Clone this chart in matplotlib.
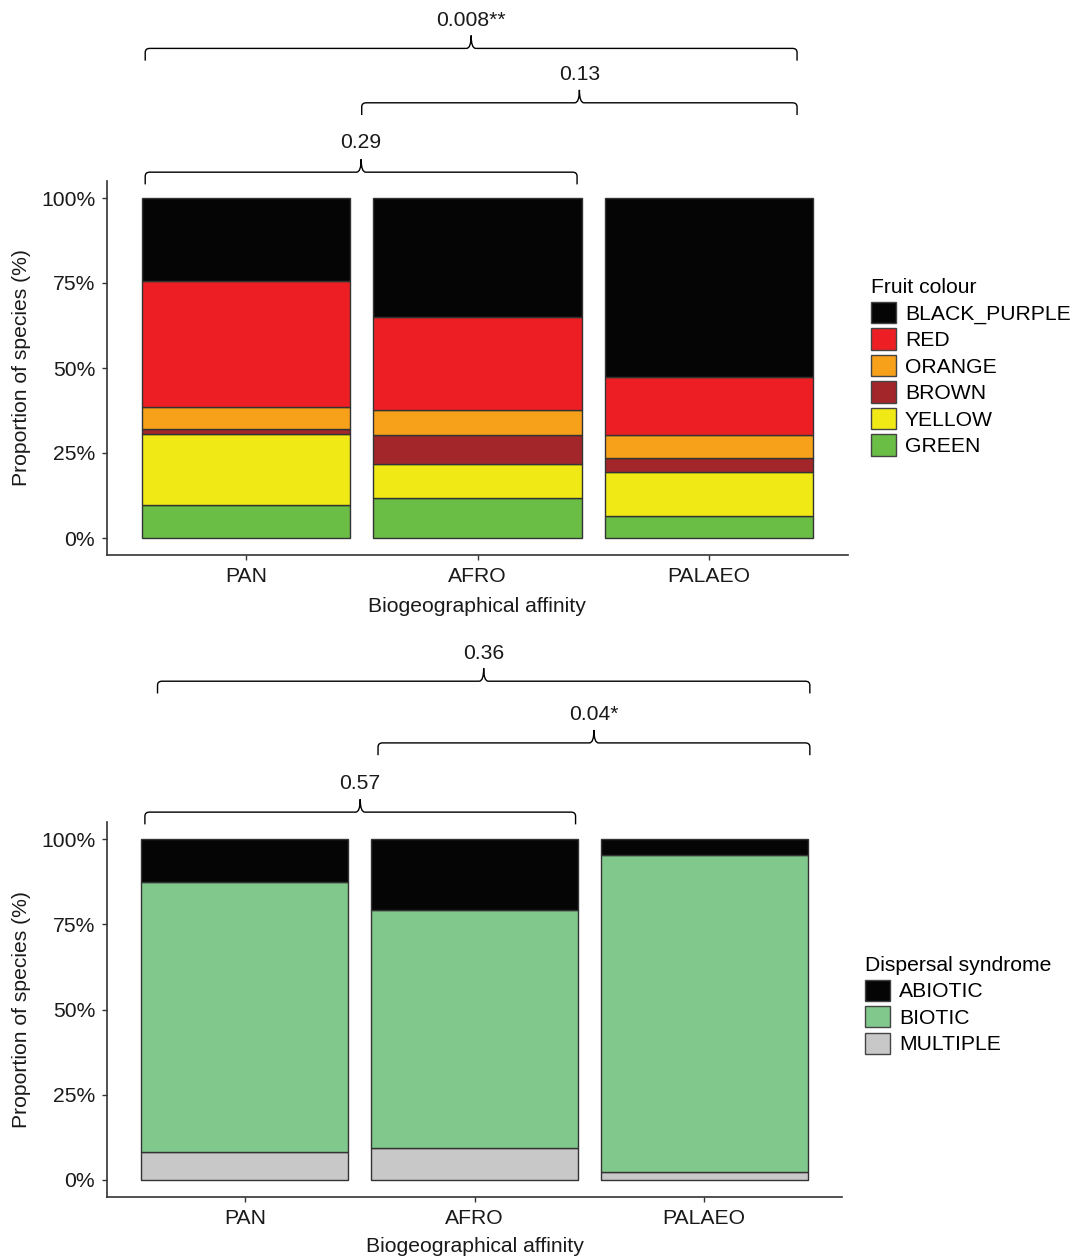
import numpy as np
import matplotlib
matplotlib.use("Agg")
import matplotlib.pyplot as plt
from matplotlib.path import Path
from matplotlib.patches import PathPatch, Patch

plt.rcParams['font.family'] = ['Liberation Sans', 'DejaVu Sans']

groups = ['PAN', 'AFRO', 'PALAEO']

# fruit colour, proportion (%) of species per group, stacked bottom -> top
colour_names = ['GREEN', 'YELLOW', 'BROWN', 'ORANGE', 'RED', 'BLACK_PURPLE']
colour_pct = {
    'GREEN':        [9.8, 11.7, 6.6],
    'YELLOW':       [20.7, 10.1, 12.9],
    'BROWN':        [1.7, 8.4, 4.1],
    'ORANGE':       [6.2, 7.4, 6.6],
    'RED':          [37.2, 27.3, 17.1],
    'BLACK_PURPLE': [24.4, 35.1, 52.7],
}
colour_fill = ['#6abd45', '#f1e915', '#a3262a', '#f7a11a', '#ed1f24', '#050505']

# dispersal syndrome
syndrome_names = ['MULTIPLE', 'BIOTIC', 'ABIOTIC']
syndrome_pct = {
    'MULTIPLE': [8.3, 9.3, 2.4],
    'BIOTIC':   [79.0, 70.0, 92.8],
    'ABIOTIC':  [12.7, 20.7, 4.8],
}
syndrome_fill = ['#c8c8c8', '#80c88c', '#050505']

# pairwise p-values
colour_p = ['0.008**', '0.13', '0.29']
syndrome_p = ['0.36', '0.04*', '0.57']

W, H = 1078, 1259
FS = 15.2
EDGE = '#333333'

fig = plt.figure(figsize=(W / 100, H / 100), dpi=100)


def brace(ax, x0, x1, y, text, ty):
    # curly bracket with a small cusp in the middle
    d, r, c, rx = 3.6, 1.2, 3.8, 0.02
    xm = (x0 + x1) / 2
    verts = [(x0, y - d), (x0, y - r), (x0, y), (x0 + rx, y),
             (xm - rx, y), (xm, y), (xm, y + c),
             (xm, y), (xm + rx, y),
             (x1 - rx, y), (x1, y), (x1, y - r), (x1, y - d)]
    codes = [Path.MOVETO, Path.LINETO, Path.CURVE3, Path.CURVE3,
             Path.LINETO, Path.CURVE3, Path.CURVE3,
             Path.CURVE3, Path.CURVE3,
             Path.LINETO, Path.CURVE3, Path.CURVE3, Path.LINETO]
    ax.add_patch(PathPatch(Path(verts, codes), fill=False, lw=1.0,
                           color='black', clip_on=False))
    ax.text(xm, ty, text, ha='center', va='center', fontsize=FS,
            color='#1a1a1a', clip_on=False)


def stacked(ax, names, table, fills):
    x = np.arange(1, len(groups) + 1)
    bottom = np.zeros(len(groups))
    for name, fc in zip(names, fills):
        vals = np.array(table[name])
        ax.bar(x, vals, bottom=bottom, width=0.9, color=fc,
               edgecolor=EDGE, linewidth=1.0)
        bottom += vals
    ax.set_xlim(0.4, 3.6)
    ax.set_ylim(-5, 105)
    ax.set_xticks(x)
    ax.set_xticklabels(groups)
    ax.set_yticks([0, 25, 50, 75, 100])
    ax.set_yticklabels(['0%', '25%', '50%', '75%', '100%'])
    for s in ['top', 'right']:
        ax.spines[s].set_visible(False)
    for s in ['left', 'bottom']:
        ax.spines[s].set_color(EDGE)
        ax.spines[s].set_linewidth(1.2)
    ax.tick_params(length=3.5, width=1, color=EDGE, labelsize=FS,
                   labelcolor='#1a1a1a', pad=5)


def key_legend(names, fills, title, x, y):
    handles = [Patch(facecolor=fc, edgecolor='#444444', linewidth=1.0)
               for fc in fills]
    return fig.legend(handles, names, title=title,
                      loc='upper left', bbox_to_anchor=(x / W, 1 - y / H),
                      frameon=False, fontsize=FS, title_fontsize=FS,
                      handlelength=1.18, handleheight=1.18, labelspacing=0.22,
                      handletextpad=0.42, borderpad=0, borderaxespad=0,
                      alignment='left')


# top panel: fruit colour
ax1 = fig.add_axes([107 / W, 1 - 555 / H, 741 / W, 374 / H])
stacked(ax1, colour_names, colour_pct, colour_fill)
brace(ax1, 0.565, 3.38, 144.0, colour_p[0], 152.2)
brace(ax1, 1.50, 3.38, 128.0, colour_p[1], 136.4)
brace(ax1, 0.565, 2.43, 107.6, colour_p[2], 116.2)

fig.text(22 / W, 1 - 368 / H, 'Proportion of species (%)', rotation=90,
         ha='center', va='center', fontsize=FS, color='#1a1a1a')
fig.text(477 / W, 1 - 607 / H, 'Biogeographical affinity',
         ha='center', va='center', fontsize=FS, color='#1a1a1a')

key_legend(colour_names[::-1], colour_fill[::-1], 'Fruit colour', 871, 278)

# bottom panel: dispersal syndrome
ax2 = fig.add_axes([107 / W, 1 - 1197 / H, 735 / W, 375 / H])
stacked(ax2, syndrome_names, syndrome_pct, syndrome_fill)
brace(ax2, 0.62, 3.46, 146.3, syndrome_p[0], 154.3)
brace(ax2, 1.58, 3.46, 128.2, syndrome_p[1], 136.6)
brace(ax2, 0.565, 2.44, 107.9, syndrome_p[2], 116.2)

fig.text(22 / W, 1 - 1010 / H, 'Proportion of species (%)', rotation=90,
         ha='center', va='center', fontsize=FS, color='#1a1a1a')
fig.text(475 / W, 1 - 1247 / H, 'Biogeographical affinity',
         ha='center', va='center', fontsize=FS, color='#1a1a1a')

key_legend(syndrome_names[::-1], syndrome_fill[::-1], 'Dispersal syndrome',
           865, 956)

fig.savefig('out.png', dpi=100)
